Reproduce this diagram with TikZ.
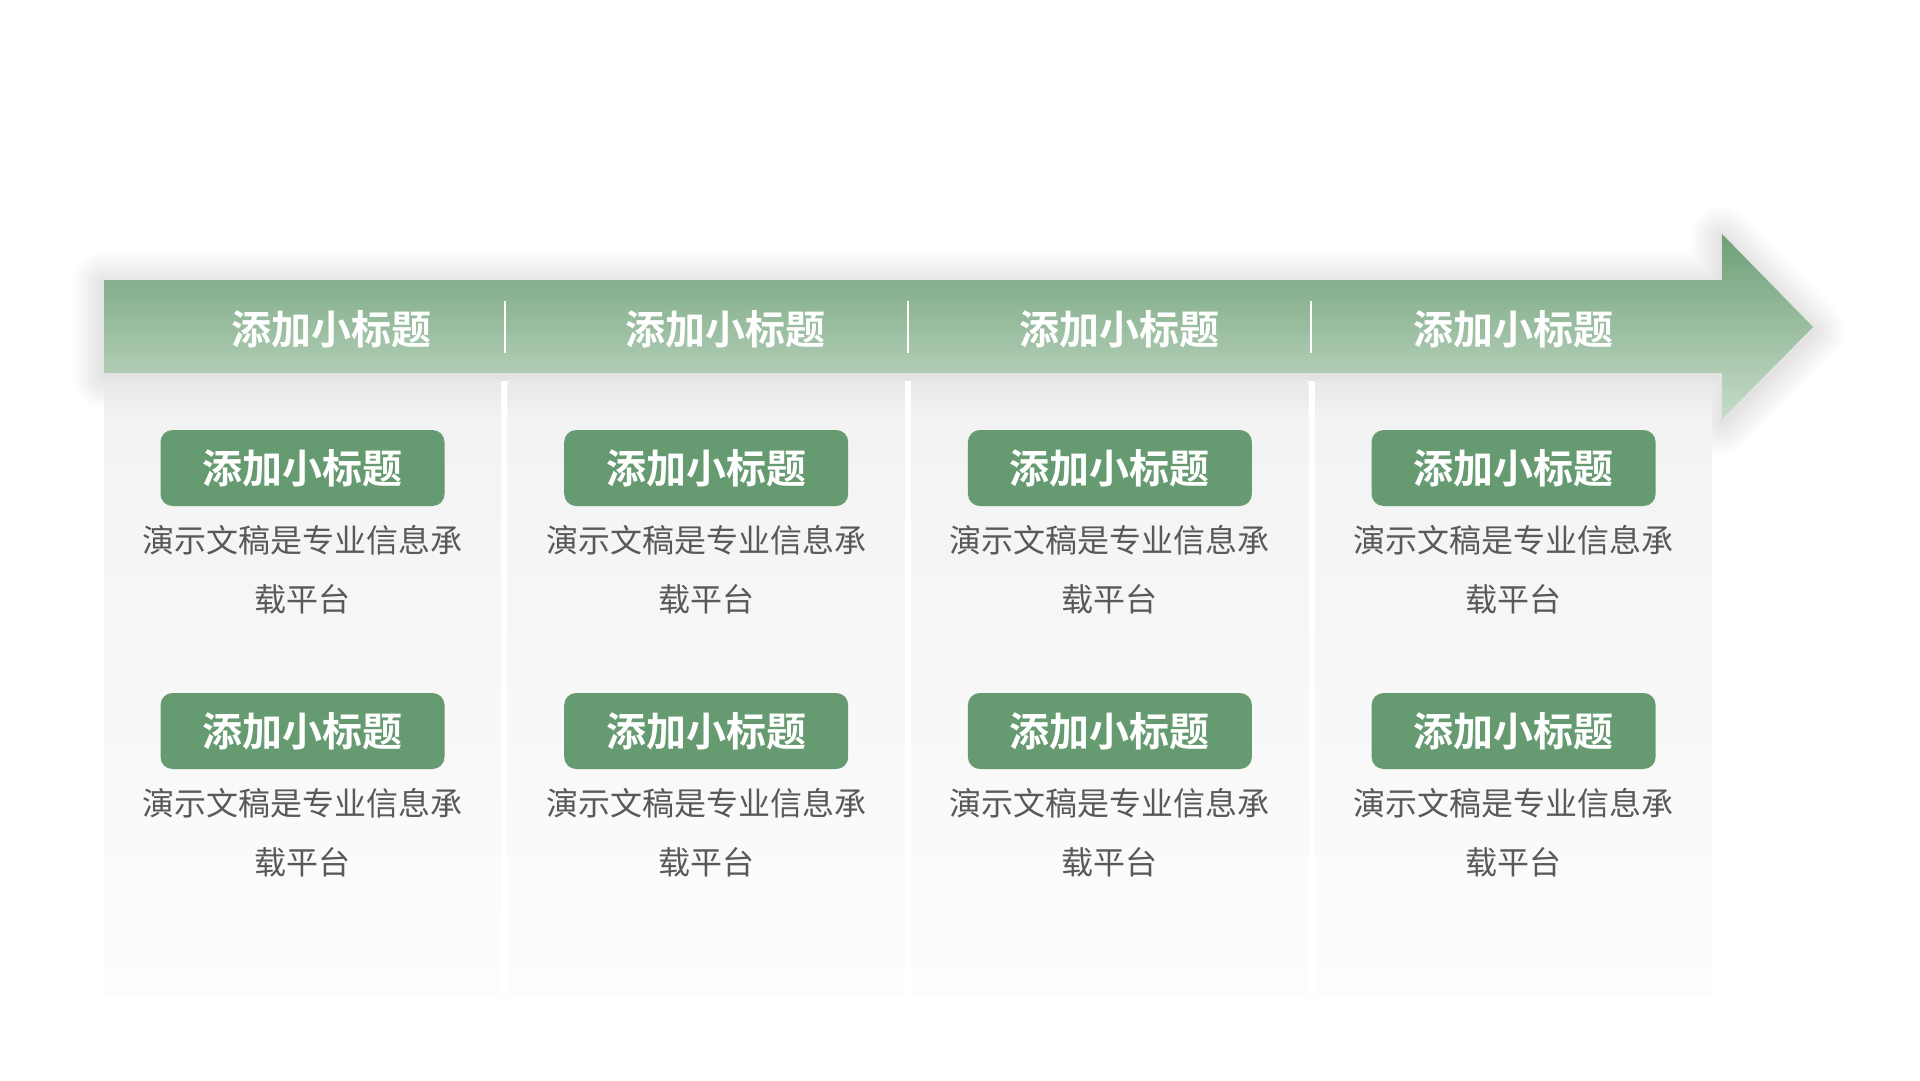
\documentclass[tikz,border=0pt]{standalone}
\usepackage{fontspec}
\newfontfamily\cjk{Noto Sans CJK SC}[BoldFont={Noto Sans CJK SC Bold}]
\definecolor{bandtop}{HTML}{6E9F78}
\definecolor{bandbot}{HTML}{C6DCC8}
\definecolor{pillgreen}{HTML}{669B71}
\definecolor{bodygray}{HTML}{595959}
\definecolor{paneltop}{HTML}{F2F2F2}
\definecolor{panelmid}{HTML}{F7F7F7}
\definecolor{panelbot}{HTML}{FDFDFD}
\tikzset{
  pill/.style={rectangle, rounded corners=12pt, fill=pillgreen, minimum width=284pt, minimum height=76pt, inner sep=0pt, text=white, font=\cjk\bfseries\fontsize{40}{44}\selectfont},
  headtext/.style={inner sep=0pt, text=white, font=\cjk\bfseries\fontsize{40}{44}\selectfont},
  bodytext/.style={inner sep=0pt, align=center, text=bodygray, font=\cjk\fontsize{32}{59}\selectfont},
  divider/.style={draw=white, line width=2pt}
}
\begin{document}
\begin{tikzpicture}[x=1pt,y=-1pt]
\useasboundingbox (0,0) rectangle (1920,1080);
\fill[white] (0,0) rectangle (1920,1080);
% arrow shadow (soft halo)
\begin{scope}[yshift=-4pt]
\foreach \i in {1,...,14}{
  \draw[black, opacity=0.0065, line width={4.5*\i pt}, line join=round]
    (104,280) -- (1722,280) -- (1722,234) -- (1813,327) -- (1722,419) -- (1722,373) -- (104,373) -- cycle;
}
\end{scope}
% clear halo behind the panel area
\fill[white] (104,381) rectangle (1712,1000);
% panels
\foreach \k in {0,1,2,3}{
  \pgfmathsetmacro{\xl}{104+403.7*\k}
  \shade[top color=paneltop, middle color=panelmid, bottom color=panelbot] (\xl,379) rectangle ({\xl+397},996);
}
% shadow on panels' top (cast by band)
\foreach \k in {0,1,2,3}{
  \pgfmathsetmacro{\xl}{104+403.7*\k}
  \foreach \i in {1,...,10}{
    \fill[black, opacity=0.005] (\xl,379) rectangle ({\xl+397},{379+4*\i});
  }
}
% arrow
\shade[top color=bandtop, bottom color=bandbot]
  (104,280) -- (1722,280) -- (1722,234) -- (1813,327) -- (1722,419) -- (1722,373) -- (104,373) -- cycle;
% dividers
\draw[divider] (504.5,301) -- (504.5,353);
\draw[divider] (907.7,301) -- (907.7,353);
\draw[divider] (1311,301) -- (1311,353);
% headers
\node[headtext] (h1) at (331,329) {添加小标题};
\node[headtext] (h2) at (725,329) {添加小标题};
\node[headtext] (h3) at (1119,329) {添加小标题};
\node[headtext] (h4) at (1513,329) {添加小标题};
% pills and body text
\foreach \k/\n in {0/1,1/2,2/3,3/4}{
  \pgfmathsetmacro{\xc}{302.5+403.7*\k}
  \node[pill] (pa\n) at (\xc,468) {添加小标题};
  \node[bodytext] (ta\n) at (\xc,569.5) {演示文稿是专业信息承\\载平台};
  \node[pill] (pb\n) at (\xc,731) {添加小标题};
  \node[bodytext] (tb\n) at (\xc,833) {演示文稿是专业信息承\\载平台};
}
\end{tikzpicture}
\end{document}
